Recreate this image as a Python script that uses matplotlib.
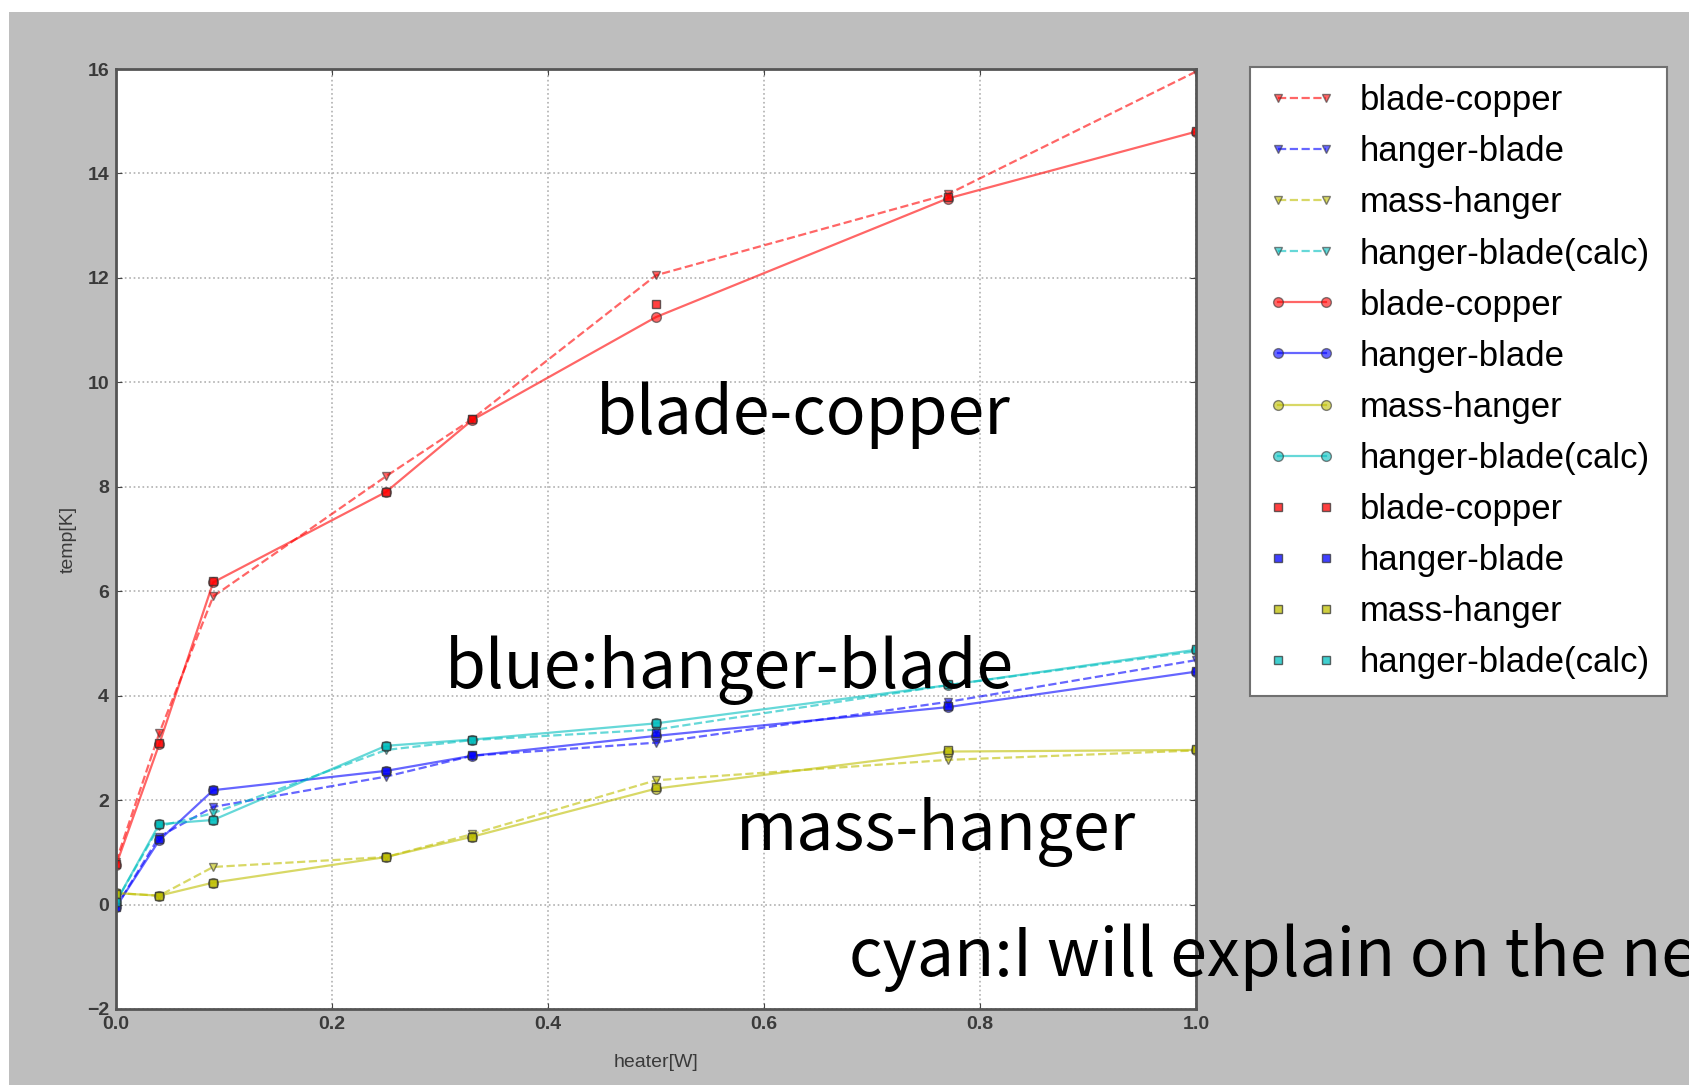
import numpy as np
import matplotlib.pyplot as plt
from matplotlib.patches import Rectangle

# heater power steps [W]
heater = [0.0, 0.04, 0.09, 0.25, 0.33, 0.5, 0.77, 1.0]

# dashed / triangle series
bc_tri = [0.82, 3.28, 5.9, 8.2, 9.3, 12.05, 13.6, 15.95]
hb_tri = [-0.05, 1.3, 1.87, 2.45, 2.85, 3.1, 3.88, 4.68]
mh_tri = [0.22, 0.17, 0.72, 0.91, 1.35, 2.38, 2.77, 2.95]
hbc_tri = [0.05, 1.5, 1.75, 2.96, 3.15, 3.35, 4.2, 4.85]

# solid / circle series
bc_circ = [0.75, 3.07, 6.17, 7.9, 9.28, 11.25, 13.52, 14.8]
hb_circ = [-0.05, 1.23, 2.19, 2.56, 2.85, 3.23, 3.78, 4.46]
mh_circ = [0.22, 0.17, 0.42, 0.91, 1.3, 2.22, 2.93, 2.96]
hbc_circ = [0.05, 1.54, 1.62, 3.04, 3.16, 3.47, 4.2, 4.88]

# square markers only
bc_sq = [0.78, 3.1, 6.2, 7.9, 9.3, 11.5, 13.55, 14.82]
hb_sq = [-0.05, 1.25, 2.2, 2.55, 2.87, 3.28, 3.8, 4.48]
mh_sq = [0.2, 0.17, 0.42, 0.91, 1.3, 2.25, 2.95, 2.98]
hbc_sq = [0.05, 1.54, 1.62, 3.04, 3.16, 3.47, 4.22, 4.9]

names = ['blade-copper', 'hanger-blade', 'mass-hanger', 'hanger-blade(calc)']
colors = ['r', 'b', 'y', 'c']

W, H = 1690, 1085
fig = plt.figure(figsize=(W / 100, H / 100), dpi=100, facecolor='white')
fig.patches.append(Rectangle((9 / W, 0), 1, 1 - 12 / H, transform=fig.transFigure,
                             facecolor='#bebebe', edgecolor='none', zorder=-10))

ax = fig.add_axes([116 / W, 1 - 1009 / H, (1196 - 116) / W, (1009 - 69) / H])
ax.set_facecolor('white')

lw = 1.6
for ys, c, n in zip([bc_tri, hb_tri, mh_tri, hbc_tri], colors, names):
    ax.plot(heater, ys, '--v', color=c, alpha=0.6, lw=lw, ms=6, mec='#333333', label=n)
for ys, c, n in zip([bc_circ, hb_circ, mh_circ, hbc_circ], colors, names):
    ax.plot(heater, ys, '-o', color=c, alpha=0.6, lw=lw, ms=7, mec='#333333', label=n)
for ys, c, n in zip([bc_sq, hb_sq, mh_sq, hbc_sq], colors, names):
    ax.plot(heater, ys, 's', color=c, alpha=0.75, ms=6, mec='#333333', label=n)

ax.set_xlim(0, 1.0)
ax.set_ylim(-2, 16)
ax.set_xticks(np.arange(0, 1.01, 0.2))
ax.set_yticks(np.arange(-2, 16.1, 2))
ax.set_xticklabels(['%.1f' % v for v in np.arange(0, 1.01, 0.2)])
ax.grid(True, ls=':', color='#b0b0b0', lw=1.2)
ax.tick_params(direction='in', top=True, right=True, length=4, labelsize=14,
               colors='#444444', labelcolor='#3a3a3a', pad=5)
for s in ax.spines.values():
    s.set_color('#555555')
    s.set_linewidth(2)
ax.set_xlabel('heater[W]', fontsize=14, color='#3a3a3a', family='Liberation Sans')
ax.set_ylabel('temp[K]', fontsize=14, color='#3a3a3a', family='Liberation Sans')
ax.xaxis.set_label_coords(0.5, -0.048)
ax.yaxis.set_label_coords(-0.036, 0.5)
for t in ax.get_xticklabels() + ax.get_yticklabels():
    t.set_family('Liberation Sans')
    t.set_weight('bold')

leg = fig.legend(loc='upper left', bbox_to_anchor=(1250 / W, 1 - 67 / H), borderaxespad=0,
                 numpoints=2, handlelength=2.0, handletextpad=0.66, labelspacing=0.52,
                 borderpad=0.5, fancybox=False, framealpha=1,
                 prop={'family': 'Liberation Sans', 'size': 25})
leg.get_frame().set_edgecolor('#707070')
leg.get_frame().set_linewidth(1.5)

big = dict(family=['Noto Sans CJK JP', 'DejaVu Sans'], fontsize=47.5, color='black', va='baseline')
fig.text(596 / W, 1 - 434 / H, 'blade-copper', **big)
fig.text(445 / W, 1 - 688 / H, 'blue:hanger-blade', **big)
fig.text(736 / W, 1 - 850 / H, 'mass-hanger', **big)
fig.text(849 / W, 1 - 976 / H, 'cyan:I will explain on the next page', **big)

fig.savefig('out.png', dpi=100, facecolor=fig.get_facecolor())
